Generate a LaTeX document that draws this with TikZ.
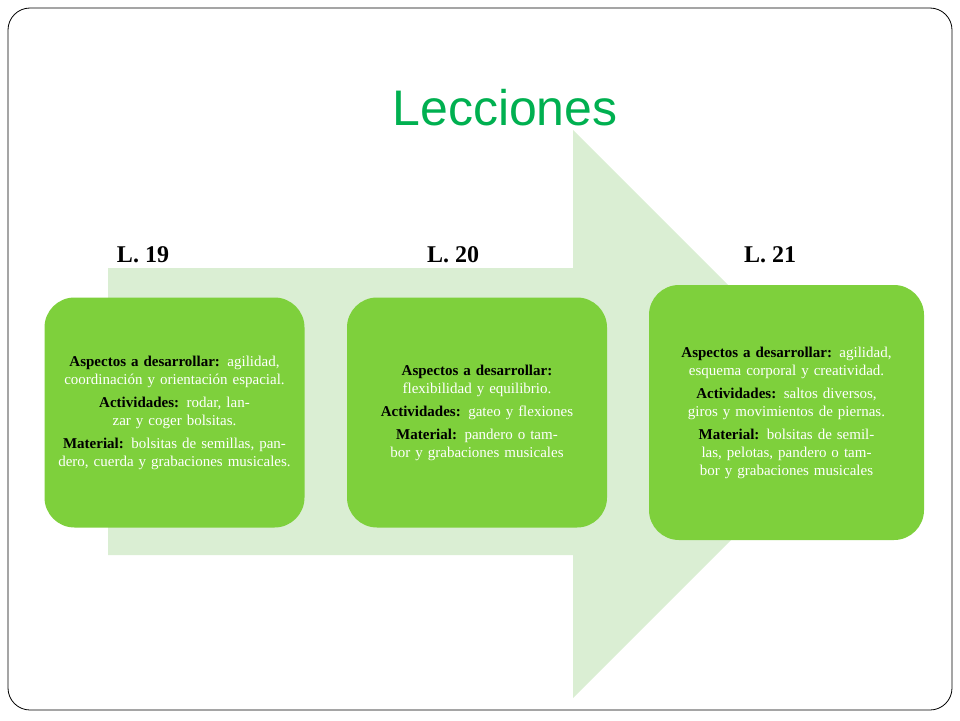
\documentclass[tikz,border=0pt]{standalone}
\usepackage{fontspec}
\setmainfont{Liberation Serif}
\newfontfamily\titlefont{Liberation Sans}
\usetikzlibrary{positioning}
\definecolor{titlegreen}{HTML}{00B050}
\definecolor{arrowgreen}{HTML}{DAEED3}
\definecolor{boxgreen}{HTML}{7ED03C}
\tikzset{
  lesson/.style={font=\bfseries\fontsize{24}{28}\selectfont},
  infobox/.style={fill=boxgreen, rounded corners=30pt, minimum height=230pt,
    text width=240pt, align=center, text=white, inner sep=10pt,
    font=\fontsize{15}{18}\selectfont},
  key/.style={}
}
\newcommand{\keyword}[1]{\textcolor{black}{\textbf{#1}}}
\newcommand{\gap}{\par\vspace{5pt}}
\begin{document}
\begin{tikzpicture}[x=1pt,y=-1pt]
\useasboundingbox (0,0) rectangle (960,720);
%frame
\draw[rounded corners=22pt, line width=0.8pt] (8,8) rectangle (952,710);
%arrow
\fill[arrowgreen] (108,268) -- (573,268) -- (573,130) -- (857,414)
  -- (573,698) -- (573,555) -- (108,555) -- cycle;
%title
\node (title) at (505,108) {\titlefont\color{titlegreen}\fontsize{50}{56}\selectfont Lecciones};
%lesson labels
\node[lesson] (l19) at (143,255) {L. 19};
\node[lesson] (l20) at (453,255) {L. 20};
\node[lesson] (l21) at (770,255) {L. 21};
%boxes
\node[infobox] (b19) at (174.5,412.5) {\keyword{Aspectos a desarrollar:} agilidad, coordinación y orientación espacial.\gap
\keyword{Actividades:} rodar, lanzar y coger bolsitas.\gap
\keyword{Material:} bolsitas de semillas, pandero, cuerda y grabaciones musicales.};
\node[infobox] (b20) at (477,412.5) {\keyword{Aspectos a desarrollar:} flexibilidad y equilibrio.\gap
\keyword{Actividades:} gateo y flexiones\gap
\keyword{Material:} pandero o tambor y grabaciones musicales};
\node[infobox, minimum height=255pt, text width=255pt] (b21) at (786.5,412.5) {\keyword{Aspectos a desarrollar:} agilidad, esquema corporal y creatividad.\gap
\keyword{Actividades:} saltos diversos, giros y movimientos de piernas.\gap
\keyword{Material:} bolsitas de semillas, pelotas, pandero o tambor y grabaciones musicales};
\end{tikzpicture}
\end{document}
